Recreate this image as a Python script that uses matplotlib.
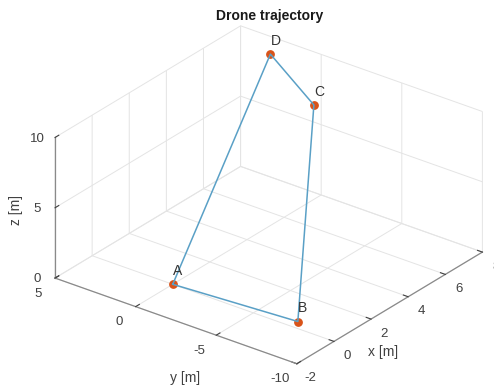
import matplotlib
matplotlib.use("Agg")
import matplotlib.pyplot as plt
from matplotlib.transforms import ScaledTranslation
import numpy as np

plt.rcParams['font.family'] = ['Liberation Sans', 'DejaVu Sans']
plt.rcParams['axes.unicode_minus'] = False
plt.rcParams['grid.color'] = '#e4e4e4'
plt.rcParams['grid.linewidth'] = 0.7

# Waypoints of the drone trajectory
labels = ['A', 'B', 'C', 'D']
xs = [0.0, 0.4, 5.0, 7.0]
ys = [0.0, -7.3, -3.0, 2.0]
zs = [0.0, 0.0, 10.0, 10.0]

x_ticks = [-2, 0, 2, 4, 6, 8]
y_ticks = [-10, -5, 0, 5]
z_ticks = [0, 5, 10]

W, H = 494, 386
fig = plt.figure(figsize=(W / 100, H / 100), dpi=100)
ax = fig.add_axes([16.5 / W, -7.0 / H, 1.0, 1.0], projection='3d')
ax.set_proj_type('ortho')
ax.view_init(elev=27.5, azim=-142.5)
ax.set_box_aspect((1, 1, 0.52), zoom=1.155)

# closed path A -> B -> C -> D -> A
px = xs + [xs[0]]
py = ys + [ys[0]]
pz = zs + [zs[0]]
ax.plot(px, py, pz, color='#5aa0c6', lw=1.1, zorder=3)
ax.scatter(xs, ys, zs, color='#d95319', s=28, depthshade=False, zorder=4)
for lab, x, y, z in zip(labels, xs, ys, zs):
    ax.text(x, y, z + 0.45, lab, color='#333333', fontsize=10,
            ha='left', va='bottom')

ax.set_xlim(-2, 8)
ax.set_ylim(-10, 5)
ax.set_zlim(0, 10)
ax.set_xticks(x_ticks)
ax.set_yticks(y_ticks)
ax.set_zticks(z_ticks)

for axis in (ax.xaxis, ax.yaxis, ax.zaxis):
    axis.set_pane_color((1, 1, 1, 0))
    axis.pane.set_edgecolor('#e4e4e4')
    axis.line.set_color('#8a8a8a')
    axis.line.set_linewidth(0.9)
    axis._axinfo['tick']['inward_factor'] = 0.0
    axis._axinfo['tick']['outward_factor'] = 0.25
    axis._axinfo['tick']['color'] = '#8a8a8a'
    axis.set_tick_params(labelsize=9.5, colors='#404040', pad=-2.5)


def shift_tick_labels(axis, dx_pt, dy_pt=0.0):
    """Offset an axis' tick labels by (dx_pt, dy_pt) points."""
    base = axis.get_major_ticks

    def get_major_ticks(numticks=None):
        ticks = base(numticks)
        offset = ScaledTranslation(dx_pt / 72, dy_pt / 72, fig.dpi_scale_trans)
        for t in ticks:
            t.label1.set_transform(ax.transData + offset)
        return ticks

    axis.get_major_ticks = get_major_ticks


shift_tick_labels(ax.xaxis, 3)
shift_tick_labels(ax.yaxis, -7)
shift_tick_labels(ax.zaxis, -1.0, 4.0)

# axis titles placed as in a MATLAB-style 3-D view
fig.text(16 / W, 1 - 210 / H, 'z [m]', rotation=90, fontsize=10,
         color='#404040', ha='center', va='center')
fig.text(185 / W, 1 - 378 / H, 'y [m]', fontsize=10, color='#404040',
         ha='center', va='center')
fig.text(383 / W, 1 - 352 / H, 'x [m]', fontsize=10, color='#404040',
         ha='center', va='center')

fig.text(270 / W, 1 - 16 / H, 'Drone trajectory', fontsize=10,
         fontweight='bold', color='#1a1a1a', ha='center', va='center')

fig.savefig('out.png', dpi=100)
